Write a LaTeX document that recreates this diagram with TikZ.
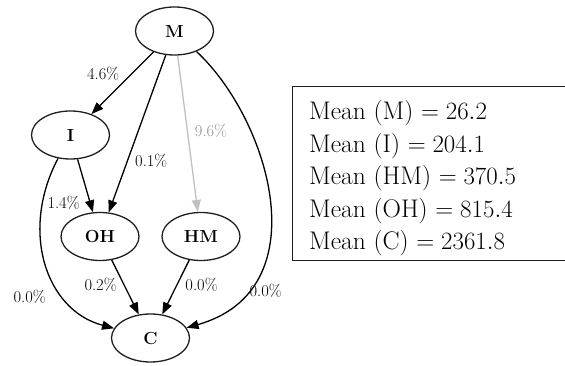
\documentclass[tikz,border=0pt]{standalone}
\usepackage{amsmath}
\usepackage{xcolor}
\usepackage{tikz}
\usetikzlibrary{arrows.meta, shapes.geometric}

\definecolor{linegray}{RGB}{30,30,30}
\definecolor{faintgray}{RGB}{192,192,192}
\definecolor{labelgray}{RGB}{145,145,145}

\begin{document}
\begin{tikzpicture}[x = 1pt, y = -1pt, >={Triangle[length=12pt, width=9pt]}]
\useasboundingbox (0, 0) rectangle (565, 366);
\begin{scope}[every node/.style={ellipse, draw=linegray, line width=1.3pt,
    minimum width=78pt, minimum height=48pt, inner sep=0pt,
    font=\fontsize{17.5}{20}\selectfont\bfseries}]

    \node (M) at (174.5, 31) {M};
    % layer
    \node (I) at (70.5, 135) {I};
    % layer
    \node (OH) at (100, 236.5) {OH};
    \node (HM) at (201, 236.5) {HM};
    % layer
    \node (C) at (150.5, 338) {C};
\end{scope}

\begin{scope}[
    line width=1.3pt,
    every edge/.style={draw=black, line width=1.3pt},
    every node/.style={inner sep=0pt, font=\fontsize{16.5}{19}\selectfont}
]
    \path [->] (M) edge node[pos=.35, left=12pt] {4.6\%} (I);
    \path [->] (M) edge node[pos=.67, right=7pt] {0.1\%} (OH);
    \path [->] (M) edge[draw=faintgray] node[pos=.48, right=7pt, text=labelgray] {9.6\%} (HM);
    \draw [->, draw=black] (M) .. controls (270, 120) and (320, 290) .. (C)
        node[pos=.8, right=3pt] {0.0\%};
    % layer
    \path [->] (I) edge node[pos=.82, left=10pt] {1.4\%} (OH);
    \draw [->, draw=black] (I) .. controls (20, 230) and (45, 310) .. (C)
        node[pos=.7, left=18pt] {0.0\%};
    % layer
    \path [->] (OH) edge node[pos=.46, left=7pt] {0.2\%} (C);
    \path [->] (HM) edge node[pos=.46, right=8pt] {0.0\%} (C);
\end{scope}

\begin{scope}[every node/.style={anchor=base west, inner sep=0pt,
    font=\fontsize{25.5}{30}\selectfont}]
    \draw [line width=1pt, draw=linegray] (292, 87) rectangle (566, 261);
    \node (meanM) at (309, 120) {Mean (M) $= 26.2$};
    \node (meanI) at (309, 152.5) {Mean (I) $= 204.1$};
    \node (meanHM) at (309, 185) {Mean (HM) $= 370.5$};
    \node (meanOH) at (309, 217.5) {Mean (OH) $= 815.4$};
    \node (meanC) at (309, 250) {Mean (C) $= 2361.8$};
\end{scope}
\end{tikzpicture}
\end{document}
